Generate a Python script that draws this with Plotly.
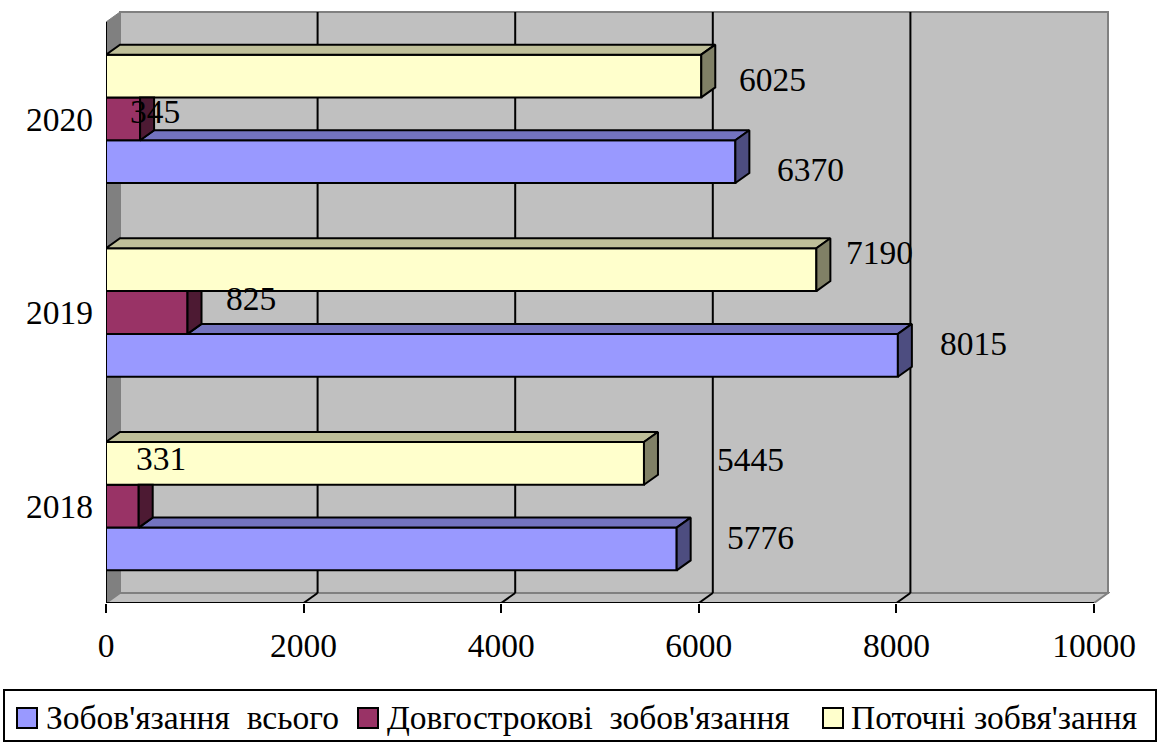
import plotly.graph_objects as go

# ---- data -------------------------------------------------------------
years = ["2018", "2019", "2020"]
series_names = ["Зобов'язання  всього", "Довгострокові  зобов'язання", "Поточні зобвя'зання"]
total_liab = [5776, 8015, 6370]
long_term_liab = [331, 825, 345]
current_liab = [5445, 7190, 6025]
x_tick_values = [0, 2000, 4000, 6000, 8000, 10000]
x_tick_text = ["0", "2000", "4000", "6000", "8000", "10000"]

series_values = [total_liab, long_term_liab, current_liab]

# ---- styling ----------------------------------------------------------
FONT = "Liberation Serif"
FONT_SIZE = 33.5
front_colors = ["#9999FF", "#993366", "#FFFFCC"]
top_colors = ["#7373BF", "#73264D", "#BFBF99"]
side_colors = ["#4D4D80", "#4D1A33", "#808066"]
WALL = "#C0C0C0"
WALL_DARK = "#808080"

W, H = 1160, 742
LEFT, FRONT_TOP, FRONT_BOTTOM = 106, 22, 603      # front plane in pixels
PX_X = 988 / 10000                                  # pixels per value unit
PX_Y = (FRONT_BOTTOM - FRONT_TOP) / 3               # pixels per category
DX = 14 / PX_X                                      # 3-D depth, value units
DY = 10 / PX_Y                                      # 3-D depth, category units
BAR_W = 0.221                                       # bar thickness (category units)

X_MAX = 10000
x_range = [0, X_MAX + DX + 2 / PX_X]
y_range = [-0.5, 2.5 + DY + 1 / PX_Y]
plot_w = (x_range[1] - x_range[0]) * PX_X
plot_h = (y_range[1] - y_range[0]) * PX_Y
m_top = FRONT_BOTTOM - plot_h
m_right = W - LEFT - plot_w
m_bottom = H - FRONT_BOTTOM

# label nudges in screen pixels (dx right, dy down) from the bar end / bar centre
label_nudge = {
    (0, 0): (84, -11), (0, 1): (76, -11.5), (0, 2): (75, 7.5),
    (1, 0): (22, -47.5), (1, 1): (63.5, -14.5), (1, 2): (15, -7),
    (2, 0): (107, -3.5), (2, 1): (63, -17), (2, 2): (71, 3),
}

cat_pos = list(range(len(years)))
offsets = [-1.5 * BAR_W, -0.5 * BAR_W, 0.5 * BAR_W]

fig = go.Figure()

# front faces of the bars
for s, vals in enumerate(series_values):
    fig.add_trace(go.Bar(
        y=cat_pos, x=vals, orientation="h", width=BAR_W, offset=offsets[s],
        marker=dict(color=front_colors[s], line=dict(color="black", width=2)),
        name=series_names[s], showlegend=False, hoverinfo="skip",
    ))


def poly(xs, ys, color):
    fig.add_trace(go.Scatter(
        x=xs + [xs[0]], y=ys + [ys[0]], mode="lines", fill="toself",
        fillcolor=color, line=dict(color="black", width=2),
        showlegend=False, hoverinfo="skip",
    ))


# top and side faces; the bar above hides whatever lies behind its front face
for c in cat_pos:
    for s, vals in enumerate(series_values):
        v = vals[c]
        yb = c + offsets[s]
        yt = yb + BAR_W
        above = series_values[s + 1][c] if s + 1 < len(series_values) else None
        # top face
        x_start = 0 if above is None else min(above, v)
        if x_start < v:
            poly([x_start, v, v + DX, x_start + DX], [yt, yt, yt + DY, yt + DY], top_colors[s])
        # right-hand face
        if above is not None and above > v:
            poly([v, v, v + DX, v + DX], [yb, yt, yt, yb + DY], side_colors[s])
        else:
            poly([v, v, v + DX, v + DX], [yb, yt, yt + DY, yb + DY], side_colors[s])

shapes = []
y_lo, y_hi = -0.5, 2.5
# back wall, side wall and floor
shapes.append(dict(type="rect", xref="x", yref="y", x0=DX, x1=X_MAX + DX, y0=y_lo + DY, y1=y_hi + DY,
                   fillcolor=WALL, line=dict(color=WALL_DARK, width=2), layer="below"))
shapes.append(dict(type="path", xref="x", yref="y",
                   path=f"M0,{y_lo} L0,{y_hi} L{DX},{y_hi + DY} L{DX},{y_lo + DY} Z",
                   fillcolor=WALL_DARK, line=dict(color=WALL_DARK, width=1), layer="below"))
shapes.append(dict(type="path", xref="x", yref="y",
                   path=f"M0,{y_lo} L{X_MAX},{y_lo} L{X_MAX + DX},{y_lo + DY} L{DX},{y_lo + DY} Z",
                   fillcolor=WALL, line=dict(color=WALL_DARK, width=2), layer="below"))
# gridlines on the back wall and their feet on the floor
for k in x_tick_values[1:-1]:
    shapes.append(dict(type="line", xref="x", yref="y", x0=k + DX, x1=k + DX, y0=y_lo + DY, y1=y_hi + DY,
                       line=dict(color="black", width=2), layer="below"))
    shapes.append(dict(type="line", xref="x", yref="y", x0=k, x1=k + DX, y0=y_lo, y1=y_lo + DY,
                       line=dict(color="black", width=2), layer="below"))
# front axes
shapes.append(dict(type="line", xref="x", yref="y", x0=0, x1=X_MAX, y0=y_lo, y1=y_lo,
                   line=dict(color="black", width=2)))
shapes.append(dict(type="line", xref="x", yref="y", x0=0, x1=0, y0=y_lo, y1=y_hi,
                   line=dict(color="black", width=2)))
for b in [-0.5, 0.5, 1.5, 2.5]:
    shapes.append(dict(type="line", xref="x", yref="y", xsizemode="pixel", xanchor=0,
                       x0=-8, x1=0, y0=b, y1=b, line=dict(color="black", width=2)))

annotations = []
# value labels
for s, vals in enumerate(series_values):
    for c in cat_pos:
        v = vals[c]
        ndx, ndy = label_nudge[(s, c)]
        annotations.append(dict(
            x=v, y=c + offsets[s] + BAR_W / 2, xref="x", yref="y", text=str(v),
            showarrow=False, xanchor="center", yanchor="middle",
            xshift=ndx, yshift=-ndy, font=dict(family=FONT, size=FONT_SIZE, color="black"),
        ))


# legend box drawn in paper space
def px_to_paper(px, py):
    return (px - LEFT) / plot_w, (FRONT_BOTTOM - py) / plot_h


lx0, ly0 = px_to_paper(4, 690)
lx1, ly1 = px_to_paper(1156, 741)
shapes.append(dict(type="rect", xref="paper", yref="paper", x0=lx0, x1=lx1, y0=ly1, y1=ly0,
                   line=dict(color="black", width=2), fillcolor="white"))
legend_marker_px = [17, 358, 823]
legend_text_px = [44, 385, 849]
for s in range(len(series_names)):
    mx0, my0 = px_to_paper(legend_marker_px[s], 708)
    mx1, my1 = px_to_paper(legend_marker_px[s] + 20, 728)
    shapes.append(dict(type="rect", xref="paper", yref="paper", x0=mx0, x1=mx1, y0=my1, y1=my0,
                       fillcolor=front_colors[s], line=dict(color="black", width=2)))
    tx, ty = px_to_paper(legend_text_px[s], 717)
    annotations.append(dict(
        x=tx, y=ty, xref="paper", yref="paper", text=series_names[s].replace("  ", " \u00a0"),
        showarrow=False, xanchor="left", yanchor="middle",
        font=dict(family=FONT, size=FONT_SIZE, color="black"),
    ))

fig.update_layout(
    width=W, height=H, barmode="overlay",
    margin=dict(l=LEFT, r=m_right, t=m_top, b=m_bottom, pad=0),
    paper_bgcolor="white", plot_bgcolor="white",
    font=dict(family=FONT, size=FONT_SIZE, color="black"),
    xaxis=dict(range=x_range, tickvals=x_tick_values, ticktext=x_tick_text, ticks="outside",
               ticklen=9, tickwidth=2, tickcolor="black", showgrid=False, zeroline=False,
               showline=False, ticklabelstandoff=4, fixedrange=True,
               tickfont=dict(family=FONT, size=FONT_SIZE, color="black")),
    yaxis=dict(range=y_range, tickvals=cat_pos, ticktext=years, ticks="", showgrid=False,
               zeroline=False, showline=False, ticklabelstandoff=12, fixedrange=True,
               tickfont=dict(family=FONT, size=FONT_SIZE, color="black")),
    shapes=shapes, annotations=annotations, showlegend=False,
)

fig.write_html("out.html")
